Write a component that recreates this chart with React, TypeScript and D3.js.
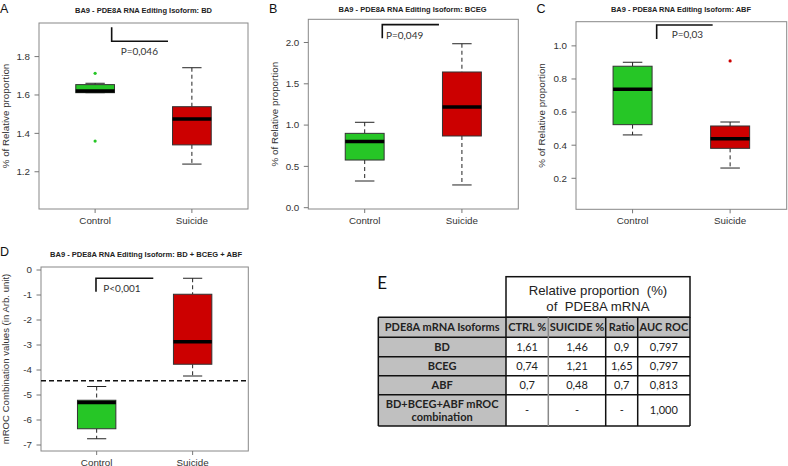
import React from "react";
import * as d3 from "d3";

// ---------- DATA ----------
const groups = ["Control", "Suicide"];

// box stats: [lower whisker, Q1, median, Q3, upper whisker]
const bdControl = [1.612, 1.612, 1.621, 1.654, 1.661];
const bdSuicide = [1.24, 1.34, 1.475, 1.539, 1.742];
const bdOutliers = [[1.713, 1.36], []];
const bdTicks = [1.2, 1.4, 1.6, 1.8];
const bdTickLabels = ["1.2", "1.4", "1.6", "1.8"];

const bcegControl = [0.323, 0.577, 0.8, 0.9, 1.034];
const bcegSuicide = [0.275, 0.868, 1.219, 1.643, 1.985];
const bcegOutliers = [[], []];
const bcegTicks = [0, 0.5, 1, 1.5, 2];
const bcegTickLabels = ["0.0", "0.5", "1.0", "1.5", "2.0"];

const abfControl = [0.462, 0.524, 0.738, 0.877, 0.901];
const abfSuicide = [0.262, 0.381, 0.439, 0.516, 0.54];
const abfOutliers = [[], [0.909]];
const abfTicks = [0.2, 0.4, 0.6, 0.8, 1.0];
const abfTickLabels = ["0.2", "0.4", "0.6", "0.8", "1.0"];

const combControl = [-6.75, -6.35, -5.3, -5.21, -4.66];
const combSuicide = [-4.24, -3.77, -2.87, -0.97, -0.33];
const combOutliers = [[], []];
const combTicks = [0, -1, -2, -3, -4, -5, -6, -7];
const combTickLabels = ["0", "-1", "-2", "-3", "-4", "-5", "-6", "-7"];
const combCutoff = -4.43;

// bracket: [x of vertical, x of horizontal end, y top, y bottom] in data units
const bdBracket = [1.171, 1.753, 1.953, 1.88];
const bcegBracket = [1.181, 1.764, 2.216, 2.051];
const abfBracket = [1.247, 1.821, 1.126, 1.042];
const combBracket = [0.993, 1.59, -0.33, -0.87];

const pValues = ["P=0,046", "P=0,049", "P=0,03", "P<0,001"];
const titles = [
  "BA9 - PDE8A RNA Editing Isoform: BD",
  "BA9 - PDE8A RNA Editing Isoform: BCEG",
  "BA9 - PDE8A RNA Editing Isoform: ABF",
  "BA9 - PDE8A RNA Editing Isoform: BD + BCEG + ABF",
];
const yLabels = [
  "% of Relative proportion",
  "% of Relative proportion",
  "% of Relative proportion",
  "mROC Combination values (in Arb. unit)",
];
const panelLetters = ["A", "B", "C", "D"];

// table
const tableSuperHeader = ["Relative proportion  (%)", "of  PDE8A mRNA"];
const tableColumns = ["PDE8A mRNA Isoforms", "CTRL %", "SUICIDE %", "Ratio", "AUC ROC"];
const tableIsoforms = ["BD", "BCEG", "ABF", "BD+BCEG+ABF mROC|combination"];
const tableCtrl = ["1,61", "0,74", "0,7", "-"];
const tableSuicide = ["1,46", "1,21", "0,48", "-"];
const tableRatio = ["0,9", "1,65", "0,7", "-"];
const tableAuc = ["0,797", "0,797", "0,813", "1,000"];

// ---------- LAYOUT ----------
const GREEN = "#26c626";
const RED = "#cc0000";
const RFONT = "'Liberation Sans', Arial, sans-serif";
const CFONT = "Lato, 'Open Sans', sans-serif";

type PanelLayout = {
  x0: number; x1: number; y0: number; y1: number;
  yDomain: [number, number];
  titleX: number; titleY: number; titleW: number;
  letterX: number; letterY: number;
  ylabX: number;
  pDx: number; pDy: number;
};

const layouts: PanelLayout[] = [
  { x0: 39, x1: 248, y0: 23, y1: 209, yDomain: [1.006, 1.975], titleX: 143.5, titleY: 13, titleW: 137, letterX: 0, letterY: 13, ylabX: 8.5, pDx: 9, pDy: 14 },
  { x0: 308.3, x1: 518.3, y0: 19.3, y1: 209, yDomain: [-0.016, 2.281], titleX: 412.5, titleY: 11.7, titleW: 148, letterX: 269, letterY: 13, ylabX: 277.5, pDx: 3.7, pDy: 1 },
  { x0: 576, x1: 786.7, y0: 21.7, y1: 209.3, yDomain: [0.0127, 1.146], titleX: 681, titleY: 11.7, titleW: 140, letterX: 536.5, letterY: 13, ylabX: 545, pDx: 15, pDy: -0.7 },
  { x0: 41, x1: 248.3, y0: 267, y1: 451, yDomain: [-7.24, 0.12], titleX: 146, titleY: 256.7, titleW: 192, letterX: 0, letterY: 255.7, ylabX: 8.5, pDx: 7.3, pDy: 0.6 },
];

type PanelData = {
  stats: number[][];
  outliers: number[][];
  ticks: number[];
  tickLabels: string[];
  bracket: number[];
  cutoff?: number;
};

const panels: PanelData[] = [
  { stats: [bdControl, bdSuicide], outliers: bdOutliers, ticks: bdTicks, tickLabels: bdTickLabels, bracket: bdBracket },
  { stats: [bcegControl, bcegSuicide], outliers: bcegOutliers, ticks: bcegTicks, tickLabels: bcegTickLabels, bracket: bcegBracket },
  { stats: [abfControl, abfSuicide], outliers: abfOutliers, ticks: abfTicks, tickLabels: abfTickLabels, bracket: abfBracket },
  { stats: [combControl, combSuicide], outliers: combOutliers, ticks: combTicks, tickLabels: combTickLabels, bracket: combBracket, cutoff: combCutoff },
];

const colors = [GREEN, RED];

function BoxPanel({ i }: { i: number }) {
  const L = layouts[i];
  const P = panels[i];
  const x = d3.scaleLinear().domain([0.42, 2.58]).range([L.x0, L.x1]);
  const y = d3.scaleLinear().domain(L.yDomain).range([L.y1, L.y0]);
  const halfW = x(1.2) - x(1);
  const cap = halfW / 2;
  const [bx, bxe, byt, byb] = P.bracket;
  const cy = (L.y0 + L.y1) / 2;
  const isA = i === 0;
  return (
    <g>
      <text x={L.letterX} y={L.letterY} fontFamily={RFONT} fontSize={12.5} fill="#111">{panelLetters[i]}</text>
      <text x={L.titleX} y={L.titleY} fontFamily={RFONT} fontSize={6.9} fontWeight="bold" fill="#222" textAnchor="middle" textLength={L.titleW} lengthAdjust="spacingAndGlyphs">{titles[i]}</text>
      <text transform={`translate(${L.ylabX},${cy}) rotate(-90)`} fontFamily={RFONT} fontSize={i === 3 ? 9.6 : 9.8} fill="#333" textAnchor="middle">{yLabels[i]}</text>
      <rect x={L.x0} y={L.y0} width={L.x1 - L.x0} height={L.y1 - L.y0} fill="none" stroke="#888" strokeWidth={1} />
      {P.ticks.map((t, k) => (
        <g key={k}>
          <line x1={L.x0 - 4.5} x2={L.x0} y1={y(t)} y2={y(t)} stroke="#777" />
          <text x={L.x0 - 9} y={y(t) + 3.4} fontFamily={RFONT} fontSize={9.8} fill="#333" textAnchor="end">{P.tickLabels[k]}</text>
        </g>
      ))}
      {groups.map((g, k) => (
        <g key={g}>
          <line x1={x(k + 1)} x2={x(k + 1)} y1={L.y1} y2={L.y1 + 4} stroke="#777" />
          <text x={x(k + 1)} y={L.y1 + 14.5} fontFamily={RFONT} fontSize={9.8} fill="#333" textAnchor="middle">{g}</text>
        </g>
      ))}
      {P.cutoff !== undefined && (
        <line x1={L.x0} x2={L.x1} y1={y(P.cutoff)} y2={y(P.cutoff)} stroke="#111" strokeWidth={1.4} strokeDasharray="5,3" />
      )}
      {P.stats.map((s, k) => {
        const cx = x(k + 1);
        return (
          <g key={k}>
            <line x1={cx} x2={cx} y1={y(s[4])} y2={y(s[3])} stroke="#222" strokeDasharray="4,3" />
            <line x1={cx} x2={cx} y1={y(s[1])} y2={y(s[0])} stroke="#222" strokeDasharray="4,3" />
            <line x1={cx - cap} x2={cx + cap} y1={y(s[4])} y2={y(s[4])} stroke="#222" />
            <line x1={cx - cap} x2={cx + cap} y1={y(s[0])} y2={y(s[0])} stroke="#222" />
            <rect x={cx - halfW} y={y(s[3])} width={2 * halfW} height={Math.max(0.5, y(s[1]) - y(s[3]))} fill={colors[k]} stroke="#333" strokeWidth={1} />
            <line x1={cx - halfW} x2={cx + halfW} y1={y(s[2])} y2={y(s[2])} stroke="#000" strokeWidth={3.5} />
            {P.outliers[k].map((o, m) => (
              <circle key={m} cx={cx} cy={y(o)} r={1.6} fill={colors[k]} />
            ))}
          </g>
        );
      })}
      {isA ? (
        <path d={`M${x(bx)},${y(byt)} V${y(byb)} H${x(bxe)}`} fill="none" stroke="#111" strokeWidth={1.6} />
      ) : (
        <path d={`M${x(bx)},${y(byb)} V${y(byt)} H${x(bxe)}`} fill="none" stroke="#111" strokeWidth={1.6} />
      )}
      <text x={x(bx) + L.pDx} y={y(byb) + L.pDy} fontFamily={CFONT} fontSize={10} fill="#333">{pValues[i]}</text>
    </g>
  );
}

function Table() {
  const colX = [378.3, 506, 548.3, 605.7, 637.7, 690];
  const rowY = [317.3, 337.3, 356.7, 375.7, 394.7, 426];
  const supTop = 276.7;
  const gray = "#c0c0c0";
  const cols = [tableCtrl, tableSuicide, tableRatio, tableAuc];
  const xs = d3.scaleOrdinal<number, number>().domain(d3.range(6)).range(colX);
  return (
    <g>
      <text x={377.3} y={289.3} fontFamily={CFONT} fontSize={17} fill="#111">E</text>
      <rect x={colX[1]} y={supTop} width={colX[5] - colX[1]} height={rowY[0] - supTop} fill="#fff" stroke="#111" strokeWidth={1.5} />
      <text x={(colX[1] + colX[5]) / 2} y={295} fontFamily={RFONT} fontSize={13.2} fill="#222" textAnchor="middle" style={{ whiteSpace: "pre" }}>{tableSuperHeader[0]}</text>
      <text x={(colX[1] + colX[5]) / 2} y={310.5} fontFamily={RFONT} fontSize={13.2} fill="#222" textAnchor="middle" style={{ whiteSpace: "pre" }}>{tableSuperHeader[1]}</text>
      <rect x={colX[0]} y={rowY[0]} width={colX[5] - colX[0]} height={rowY[1] - rowY[0]} fill={gray} />
      <rect x={colX[0]} y={rowY[1]} width={colX[1] - colX[0]} height={rowY[5] - rowY[1]} fill={gray} />
      {tableColumns.map((c, k) => (
        <text key={c} x={(xs(k) + xs(k + 1)) / 2} y={(rowY[0] + rowY[1]) / 2 + 4} fontFamily={CFONT} fontSize={11} fontWeight="bold" fill="#222" textAnchor="middle">{c}</text>
      ))}
      {tableIsoforms.map((iso, r) => {
        const cy = (rowY[r + 1] + rowY[r + 2]) / 2;
        const lines = iso.split("|");
        return (
          <g key={iso}>
            {lines.map((ln, m) => (
              <text key={m} x={(colX[0] + colX[1]) / 2} y={cy + 4 + (m - (lines.length - 1) / 2) * 13.5} fontFamily={CFONT} fontSize={11} fontWeight="bold" fill="#222" textAnchor="middle">{ln}</text>
            ))}
            {cols.map((col, k) => (
              <text key={k} x={(colX[k + 1] + colX[k + 2]) / 2} y={cy + 4} fontFamily={CFONT} fontSize={11} fill="#222" textAnchor="middle">{col[r]}</text>
            ))}
          </g>
        );
      })}
      {rowY.map((ry, k) => (
        <line key={"h" + k} x1={colX[0]} x2={colX[5]} y1={ry} y2={ry} stroke="#111" strokeWidth={1.5} />
      ))}
      {colX.map((cx, k) => (
        <line key={"v" + k} x1={cx} x2={cx} y1={rowY[0]} y2={rowY[5]} stroke={k === 2 ? "#888" : "#111"} strokeWidth={1.5} />
      ))}
    </g>
  );
}

export default function App() {
  return (
    <svg width={788} height={466} style={{ position: "absolute", left: 0, top: 0, background: "#fff" }}>
      <rect x={0} y={0} width={788} height={466} fill="#fff" />
      {layouts.map((_, i) => <BoxPanel key={i} i={i} />)}
      <Table />
    </svg>
  );
}
